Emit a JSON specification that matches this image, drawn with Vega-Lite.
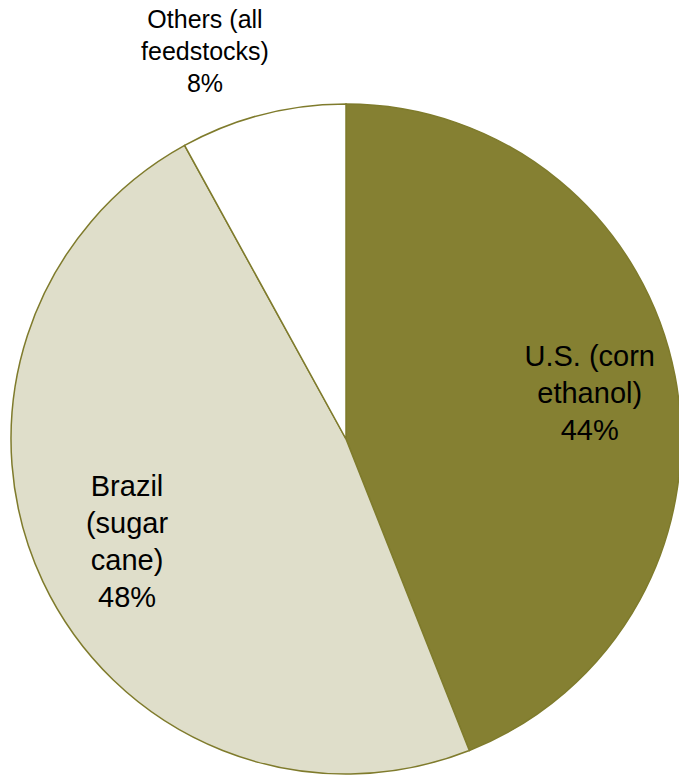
{
  "$schema": "https://vega.github.io/schema/vega-lite/v6.json",
  "width": 692,
  "height": 878,
  "autosize": {"type": "none"},
  "padding": 0,
  "background": "white",
  "config": {"view": {"stroke": null}},
  "data": {
    "values": [
      {"cat": "U.S. (corn ethanol)", "value": 44, "idx": 1, "label": "U.S. (corn\nethanol)\n44%"},
      {"cat": "Brazil (sugar cane)", "value": 48, "idx": 2, "label": "Brazil\n(sugar\ncane)\n48%"},
      {"cat": "Others (all feedstocks)", "value": 8, "idx": 3, "label": "Others (all\nfeedstocks)\n8%"}
    ]
  },
  "encoding": {
    "theta": {"field": "value", "type": "quantitative", "stack": true},
    "order": {"field": "idx", "type": "quantitative"}
  },
  "layer": [
    {
      "mark": {"type": "arc", "outerRadius": 335, "stroke": "#7f7b2c", "strokeWidth": 1.5},
      "encoding": {
        "color": {
          "field": "cat",
          "type": "nominal",
          "scale": {
            "domain": ["U.S. (corn ethanol)", "Brazil (sugar cane)", "Others (all feedstocks)"],
            "range": ["#858032", "#dfdeca", "#ffffff"]
          },
          "legend": null
        }
      }
    },
    {
      "mark": {"type": "text", "radius": 242, "dx": 6, "dy": -37, "fontSize": 29, "font": "Liberation Sans", "lineBreak": "\n", "lineHeight": 37, "align": "center", "baseline": "middle", "fill": "#000000"},
      "encoding": {
        "detail": {"field": "cat", "type": "nominal"},
        "text": {"condition": {"test": "datum.idx === 1", "field": "label"}, "value": ""}
      }
    },
    {
      "mark": {"type": "text", "radius": 242, "dy": -55, "fontSize": 29, "font": "Liberation Sans", "lineBreak": "\n", "lineHeight": 37, "align": "center", "baseline": "middle", "fill": "#000000"},
      "encoding": {
        "detail": {"field": "cat", "type": "nominal"},
        "text": {"condition": {"test": "datum.idx === 2", "field": "label"}, "value": ""}
      }
    },
    {
      "mark": {"type": "text", "radius": 412, "thetaOffset": -0.098, "dy": -32, "fontSize": 25, "font": "Liberation Sans", "lineBreak": "\n", "lineHeight": 32, "align": "center", "baseline": "middle", "fill": "#000000"},
      "encoding": {
        "detail": {"field": "cat", "type": "nominal"},
        "text": {"condition": {"test": "datum.idx === 3", "field": "label"}, "value": ""}
      }
    }
  ]
}
